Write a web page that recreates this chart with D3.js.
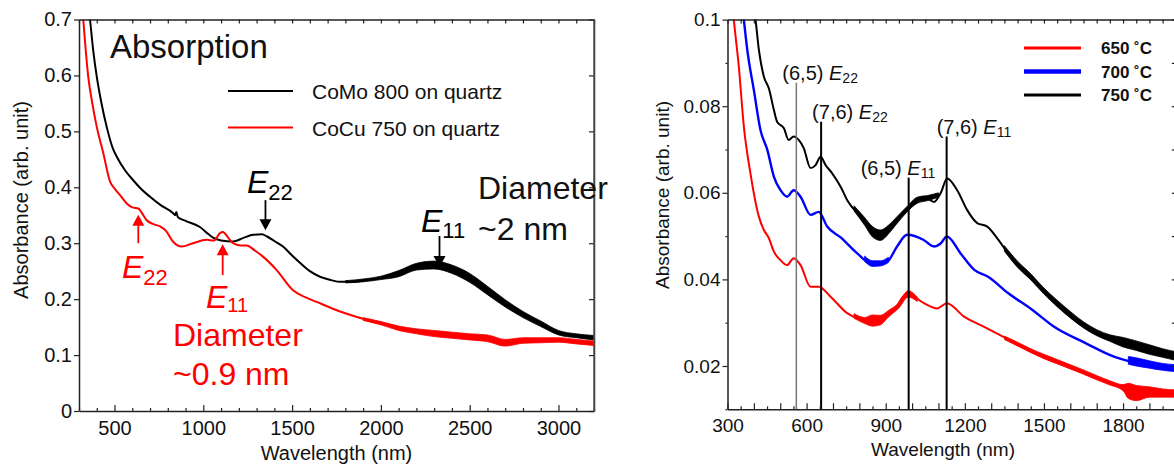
<!DOCTYPE html>
<html>
<head>
<meta charset="utf-8">
<script src="https://cdn.jsdelivr.net/npm/d3@7"></script>
<style>
body { margin: 0; background: #fff; }
svg text { font-family: "Liberation Sans", Arial, sans-serif; fill: #111; }
</style>
</head>
<body>
<svg id="chart" width="1174" height="466"></svg>
<script>
// ---------- left panel data: wavelength (nm), absorbance ----------
const leftNames = ["CoMo 800 on quartz", "CoCu 750 on quartz"];
const leftColors = ["#000000", "#ff0000"];

const como800 = [
    [340, 0.76], [362, 0.70], [380, 0.645], [400, 0.598], [430, 0.545], [456, 0.508],
    [490, 0.470], [512, 0.455], [560, 0.430], [604, 0.413], [650, 0.397], [700, 0.383],
    [760, 0.368], [829, 0.354], [842, 0.350], [848, 0.356], [856, 0.347], [900, 0.340],
    [981, 0.329], [1030, 0.316], [1055, 0.310], [1100, 0.305], [1167, 0.303], [1230, 0.310],
    [1280, 0.315], [1330, 0.316], [1359, 0.312], [1400, 0.304], [1449, 0.294], [1500, 0.278],
    [1544, 0.265], [1600, 0.250], [1657, 0.240], [1720, 0.234], [1770, 0.231], [1850, 0.231],
    [1920, 0.234], [2000, 0.238], [2107, 0.246], [2201, 0.258], [2333, 0.261], [2445, 0.249],
    [2558, 0.225], [2671, 0.198], [2783, 0.175], [2896, 0.157], [3008, 0.139], [3121, 0.133],
    [3200, 0.131]];

const cocu750 = [
    [310, 0.76], [324, 0.70], [352, 0.598], [375, 0.550], [400, 0.508], [437, 0.461],
    [475, 0.410], [500, 0.398], [531, 0.386], [569, 0.371], [600, 0.364], [634, 0.362],
    [650, 0.356], [681, 0.341], [720, 0.334], [756, 0.330], [790, 0.322],
    [829, 0.303], [878, 0.294], [942, 0.300], [1019, 0.306], [1060, 0.305], [1094, 0.318],
    [1110, 0.320], [1140, 0.310], [1167, 0.300], [1210, 0.296], [1244, 0.296], [1290, 0.287],
    [1336, 0.276], [1413, 0.252], [1505, 0.216], [1570, 0.204], [1638, 0.195], [1770, 0.178],
    [1920, 0.163], [2107, 0.148], [2295, 0.139], [2483, 0.133], [2633, 0.130], [2700, 0.122],
    [2760, 0.126], [2858, 0.127], [3046, 0.127], [3200, 0.121]];

// noisy parts: wavelength, lower edge, upper edge
const como800Noise = [
    [1800, 0.229, 0.233], [1900, 0.231, 0.236], [2000, 0.235, 0.241], [2100, 0.240, 0.251],
    [2200, 0.252, 0.264], [2300, 0.254, 0.268], [2400, 0.246, 0.261], [2500, 0.230, 0.246],
    [2600, 0.208, 0.223], [2700, 0.186, 0.199], [2800, 0.167, 0.178], [2900, 0.151, 0.161],
    [3000, 0.136, 0.144], [3100, 0.131, 0.138], [3200, 0.127, 0.135]];

const cocu750Noise = [
    [1900, 0.162, 0.167], [2000, 0.154, 0.160], [2100, 0.144, 0.152], [2200, 0.138, 0.147],
    [2300, 0.133, 0.144], [2400, 0.130, 0.141], [2500, 0.127, 0.138], [2600, 0.124, 0.136],
    [2700, 0.116, 0.128], [2800, 0.121, 0.131], [2900, 0.122, 0.131], [3000, 0.123, 0.131],
    [3100, 0.120, 0.128], [3200, 0.117, 0.125]];

const leftXTicks = [500, 1000, 1500, 2000, 2500, 3000];
const leftYTicks = [0, 0.1, 0.2, 0.3, 0.4, 0.5, 0.6, 0.7];

// ---------- right panel data ----------
const rightNames = ["650 ˚C", "700 ˚C", "750 ˚C"];
const rightColors = ["#ff0000", "#0000ff", "#000000"];

const t650 = [
    [318, 0.104], [324, 0.100], [343, 0.0891], [362, 0.0753], [387, 0.0645], [419, 0.0545],
    [438, 0.0514], [457, 0.0495], [476, 0.0464], [500, 0.0445], [526, 0.0433], [551, 0.0449],
    [577, 0.0433], [615, 0.0383], [646, 0.0383], [691, 0.0360], [754, 0.0322], [830, 0.0306],
    [880, 0.0306], [931, 0.0329], [981, 0.0368], [1045, 0.0345], [1095, 0.0333], [1132, 0.0345],
    [1197, 0.0314], [1275, 0.0290], [1363, 0.0262], [1464, 0.0229], [1590, 0.0198],
    [1717, 0.0168], [1780, 0.0154], [1843, 0.0140], [1920, 0.0137], [2000, 0.0135]];

const t700 = [
    [355, 0.104], [362, 0.100], [375, 0.093], [400, 0.0837], [425, 0.0745], [451, 0.0699],
    [476, 0.0637], [501, 0.0606], [526, 0.0591], [551, 0.0606], [577, 0.0591], [615, 0.0549],
    [646, 0.0556], [678, 0.0522], [729, 0.0497], [792, 0.0460], [855, 0.0433], [906, 0.0441],
    [943, 0.0476], [981, 0.0503], [1044, 0.0491], [1083, 0.0476], [1108, 0.0483], [1132, 0.0499],
    [1184, 0.0460], [1236, 0.0422], [1288, 0.0406], [1365, 0.0368], [1455, 0.0330],
    [1540, 0.0290], [1654, 0.0254], [1768, 0.0221], [1818, 0.0212], [1907, 0.0203], [2000, 0.0195]];

const t750 = [
    [390, 0.104], [406, 0.100], [419, 0.093], [438, 0.0868], [457, 0.0841], [476, 0.0791],
    [488, 0.0764], [514, 0.0749], [532, 0.0722], [551, 0.0730], [570, 0.0722], [589, 0.0703],
    [615, 0.0657], [634, 0.0664], [653, 0.0683], [672, 0.0664], [697, 0.0645], [729, 0.0614],
    [754, 0.0583], [805, 0.0545], [855, 0.0510], [893, 0.0499], [931, 0.0530], [981, 0.0560],
    [1007, 0.0576], [1045, 0.0591], [1083, 0.0579], [1108, 0.0599], [1133, 0.0633], [1171, 0.0606],
    [1209, 0.0560], [1247, 0.0530], [1285, 0.0522], [1323, 0.0495], [1391, 0.0437], [1455, 0.0399],
    [1520, 0.0360], [1584, 0.0322], [1654, 0.0290], [1714, 0.0272], [1793, 0.0254],
    [1894, 0.0237], [2000, 0.0222]];

const t650Noise = [
    [[780, 0.0310, 0.0321], [820, 0.0298, 0.0312], [850, 0.0292, 0.0318], [880, 0.0295, 0.0317],
     [910, 0.0313, 0.0328], [950, 0.0334, 0.0346], [985, 0.0359, 0.0374], [1020, 0.0349, 0.0359]],
    [[1350, 0.0261, 0.0269], [1400, 0.0246, 0.0255], [1450, 0.0231, 0.0240], [1500, 0.0217, 0.0227],
     [1550, 0.0205, 0.0215], [1600, 0.0193, 0.0203], [1650, 0.0181, 0.0191], [1700, 0.0168, 0.0178],
     [1750, 0.0156, 0.0166], [1800, 0.0143, 0.0157], [1820, 0.0125, 0.0160], [1850, 0.0120, 0.0155],
     [1900, 0.0128, 0.0152], [1950, 0.0128, 0.0147], [2000, 0.0128, 0.0145]]];

const t700Noise = [
    [[820, 0.0442, 0.0454], [850, 0.0430, 0.0443], [880, 0.0431, 0.0443], [910, 0.0439, 0.0451]],
    [[1820, 0.0204, 0.0222], [1850, 0.0200, 0.0219], [1900, 0.0195, 0.0212], [1950, 0.0190, 0.0206],
     [2000, 0.0187, 0.0203]]];

const t750Noise = [
    [[780, 0.0558, 0.0570], [820, 0.0525, 0.0543], [850, 0.0498, 0.0522], [880, 0.0490, 0.0514],
     [910, 0.0505, 0.0525], [940, 0.0527, 0.0543], [980, 0.0555, 0.0568], [1020, 0.0576, 0.0590],
     [1060, 0.0582, 0.0594], [1100, 0.0590, 0.0600]],
    [[1350, 0.0465, 0.0478], [1400, 0.0428, 0.0442], [1450, 0.0399, 0.0413], [1500, 0.0366, 0.0380],
     [1550, 0.0337, 0.0352], [1600, 0.0311, 0.0326], [1650, 0.0288, 0.0302], [1700, 0.0270, 0.0284],
     [1750, 0.0257, 0.0272], [1800, 0.0244, 0.0266], [1850, 0.0236, 0.0258], [1900, 0.0227, 0.0249],
     [1950, 0.0220, 0.0240], [2000, 0.0213, 0.0233]]];

// (n,m) transitions marked with vertical lines
const transitions = [
    {chir: "(6,5)", sub: "22", wl: 561},
    {chir: "(7,6)", sub: "22", wl: 655},
    {chir: "(6,5)", sub: "11", wl: 987},
    {chir: "(7,6)", sub: "11", wl: 1131}];

const rightXTicks = [300, 600, 900, 1200, 1500, 1800];
const rightYTicks = [0.02, 0.04, 0.06, 0.08, 0.1];

// ---------- setup ----------
let svg = d3.select("#chart");

let xL = d3.scaleLinear().domain([300, 3200]).range([79, 594]);
let yL = d3.scaleLinear().domain([0, 0.7]).range([411, 19.5]);
let xR = d3.scaleLinear().domain([300, 2000]).range([727.5, 1175.8]);
let yR = d3.scaleLinear().domain([0.01, 0.1]).range([409.3, 19.6]);

function styleAxis(g, size) {
    g.selectAll(".domain").attr("stroke", "#222").attr("stroke-width", 1.5);
    g.selectAll(".tick line").attr("stroke", "#222").attr("stroke-width", 1.2);
    g.selectAll(".tick text")
        .attr("font-family", "Liberation Sans, Arial, sans-serif")
        .attr("font-size", size)
        .attr("fill", "#111");
}

function arrow(g, x, yTail, yTip, color) {
    let dir = yTip > yTail ? 1 : -1;
    g.append("line")
        .attr("x1", x).attr("x2", x)
        .attr("y1", yTail).attr("y2", yTip - dir * 8)
        .attr("stroke", color).attr("stroke-width", 1.8);
    g.append("path")
        .attr("d", `M${x - 6},${yTip - dir * 11}L${x + 6},${yTip - dir * 11}L${x},${yTip}Z`)
        .attr("fill", color);
}

function eLabel(g, x, y, sub, color, big, small, drop) {
    let t = g.append("text")
        .attr("x", x).attr("y", y)
        .style("fill", color);
    t.append("tspan").text("E")
        .attr("font-style", "italic").attr("font-size", big);
    t.append("tspan").text(sub)
        .attr("font-size", small).attr("dy", drop);
}

let line = (x, y) => d3.line().x(d => x(d[0])).y(d => y(d[1])).curve(d3.curveMonotoneX);
let band = (x, y) => d3.area().x(d => x(d[0])).y0(d => y(d[1])).y1(d => y(d[2])).curve(d3.curveMonotoneX);

// ---------- left panel ----------
let left = svg.append("g");

left.append("clipPath").attr("id", "clipL")
    .append("rect")
    .attr("x", xL.range()[0]).attr("y", yL.range()[1])
    .attr("width", xL.range()[1] - xL.range()[0])
    .attr("height", yL.range()[0] - yL.range()[1]);

let plotL = left.append("g").attr("clip-path", "url(#clipL)");

[[como800Noise, 0], [cocu750Noise, 1]].forEach(([d, i]) => {
    plotL.append("path")
        .attr("d", band(xL, yL)(d))
        .attr("fill", leftColors[i])
        .attr("stroke", leftColors[i]).attr("stroke-width", 0.8);
});

[como800, cocu750].forEach((d, i) => {
    plotL.append("path")
        .attr("d", line(xL, yL)(d))
        .attr("fill", "none")
        .attr("stroke", leftColors[i])
        .attr("stroke-width", 2);
});

let minorL = d3.range(300, 3201, 100);

let axBL = left.append("g")
    .attr("transform", `translate(0,${yL.range()[0]})`)
    .call(d3.axisBottom(xL).tickValues(minorL).tickSize(-6).tickSizeOuter(0).tickPadding(10)
        .tickFormat(d => leftXTicks.includes(d) ? d : ""));
axBL.selectAll(".tick line").attr("y2", d => leftXTicks.includes(d) ? -6 : -3);
styleAxis(axBL, 20);

let axTL = left.append("g")
    .attr("transform", `translate(0,${yL.range()[1]})`)
    .call(d3.axisTop(xL).tickValues(minorL).tickSize(-4).tickSizeOuter(0).tickFormat(""));
styleAxis(axTL, 20);

let axLL = left.append("g")
    .attr("transform", `translate(${xL.range()[0]},0)`)
    .call(d3.axisLeft(yL).tickValues(leftYTicks).tickSize(5).tickSizeOuter(0).tickPadding(2)
        .tickFormat(d => d === 0 ? "0" : d3.format(".1f")(d)));
styleAxis(axLL, 20);

let axRL = left.append("g")
    .attr("transform", `translate(${xL.range()[1]},0)`)
    .call(d3.axisRight(yL).tickValues(leftYTicks).tickSize(-5).tickSizeOuter(0).tickFormat(""));
styleAxis(axRL, 20);

// right border of the left frame
left.append("line")
    .attr("x1", xL.range()[1]).attr("x2", xL.range()[1])
    .attr("y1", yL.range()[1]).attr("y2", yL.range()[0])
    .attr("stroke", "#555").attr("stroke-width", 1.5);

left.append("text")
    .attr("x", d3.mean(xL.range())).attr("y", 460)
    .attr("text-anchor", "middle").attr("font-size", 20)
    .text("Wavelength (nm)");

left.append("text")
    .attr("transform", `translate(28,200) rotate(-90)`)
    .attr("text-anchor", "middle").attr("font-size", 20)
    .text("Absorbance (arb. unit)");

left.append("text")
    .attr("x", 110).attr("y", 58)
    .attr("font-size", 33)
    .text("Absorption");

// legend
leftNames.forEach((name, i) => {
    let yy = 91 + i * 36.5;
    left.append("line")
        .attr("x1", 228).attr("x2", 293)
        .attr("y1", yy).attr("y2", yy)
        .attr("stroke", leftColors[i]).attr("stroke-width", 2.2);
    left.append("text")
        .attr("x", 312).attr("y", yy + 8)
        .attr("font-size", 21)
        .text(name);
});

// annotations
let annL = left.append("g");
eLabel(annL, 247, 193, "22", "#000", 32, 22, 7);
arrow(annL, xL(1350), yL(0.377), yL(0.323), "#000");
eLabel(annL, 421, 232, "11", "#000", 32, 22, 6);
arrow(annL, xL(2330), yL(0.313), yL(0.2575), "#000");
annL.append("text").attr("x", 478).attr("y", 199).attr("font-size", 32).text("Diameter");
annL.append("text").attr("x", 478).attr("y", 240).attr("font-size", 32).text("~2 nm");

eLabel(annL, 122, 278, "22", "#ff0000", 32, 22, 7);
arrow(annL, xL(634), yL(0.300), yL(0.351), "#ff0000");
eLabel(annL, 206, 308, "11", "#ff0000", 32, 20, 4);
arrow(annL, xL(1109), yL(0.243), yL(0.298), "#ff0000");
annL.append("text").attr("x", 173).attr("y", 346).attr("font-size", 32)
    .style("fill", "#ff0000").text("Diameter");
annL.append("text").attr("x", 173).attr("y", 385).attr("font-size", 32)
    .style("fill", "#ff0000").text("~0.9 nm");

// ---------- right panel ----------
let right = svg.append("g");

right.append("clipPath").attr("id", "clipR")
    .append("rect")
    .attr("x", xR.range()[0]).attr("y", yR.range()[1])
    .attr("width", xR.range()[1] - xR.range()[0])
    .attr("height", yR.range()[0] - yR.range()[1]);

let plotR = right.append("g").attr("clip-path", "url(#clipR)");

// transition markers
let markTop = [0.0854, 0.0764, 0.0635, 0.0730];
let labelDx = [-14, -9, -48, -10];
transitions.forEach((t, i) => {
    right.append("line")
        .attr("x1", xR(t.wl)).attr("x2", xR(t.wl))
        .attr("y1", yR(markTop[i])).attr("y2", yR.range()[0])
        .attr("stroke", i === 0 ? "#777" : "#000")
        .attr("stroke-width", i === 0 ? 1.5 : 2);
    let lab = right.append("text")
        .attr("x", xR(t.wl) + labelDx[i])
        .attr("y", yR(markTop[i]) - 3)
        .attr("font-size", 20);
    lab.append("tspan").text(t.chir + " ");
    lab.append("tspan").text("E").attr("font-style", "italic");
    lab.append("tspan").text(t.sub).attr("font-size", 14).attr("dy", 3);
});

[t650Noise, t700Noise, t750Noise].forEach((parts, i) => {
    parts.forEach(d => {
        plotR.append("path")
            .attr("d", band(xR, yR)(d))
            .attr("fill", rightColors[i])
            .attr("stroke", rightColors[i]).attr("stroke-width", 0.8);
    });
});

[t650, t700, t750].forEach((d, i) => {
    plotR.append("path")
        .attr("d", line(xR, yR)(d))
        .attr("fill", "none")
        .attr("stroke", rightColors[i])
        .attr("stroke-width", i === 1 ? 2.4 : 2);
});

let minorR = d3.range(300, 2001, 50);

let axBR = right.append("g")
    .attr("transform", `translate(0,${yR.range()[0]})`)
    .call(d3.axisBottom(xR).tickValues(minorR).tickSize(-6).tickSizeOuter(0).tickPadding(9)
        .tickFormat(d => rightXTicks.includes(d) ? d : ""));
axBR.selectAll(".tick line").attr("y2", d => d % 100 === 0 ? -6 : -3);
styleAxis(axBR, 19);

let axTR = right.append("g")
    .attr("transform", `translate(0,${yR.range()[1]})`)
    .call(d3.axisTop(xR).tickValues(minorR).tickSize(-4).tickSizeOuter(0).tickFormat(""));
styleAxis(axTR, 19);

let minorY = d3.range(1, 11).map(k => k / 100);

let axLR = right.append("g")
    .attr("transform", `translate(${xR.range()[0]},0)`)
    .call(d3.axisLeft(yR).tickValues(minorY).tickSize(5).tickSizeOuter(0).tickPadding(2)
        .tickFormat(d => {
            let major = rightYTicks.find(v => Math.abs(v - d) < 1e-9);
            return major === undefined ? "" : (major === 0.1 ? "0.1" : d3.format(".2f")(major));
        }));
axLR.selectAll(".tick line")
    .attr("x2", d => rightYTicks.some(v => Math.abs(v - d) < 1e-9) ? -5 : -2);
styleAxis(axLR, 19);

let axRR = right.append("g")
    .attr("transform", `translate(${xR.range()[1]},0)`)
    .call(d3.axisRight(yR).tickValues(minorY).tickSize(-4).tickSizeOuter(0).tickFormat(""));
styleAxis(axRR, 19);

right.append("text")
    .attr("x", 943).attr("y", 456)
    .attr("text-anchor", "middle").attr("font-size", 19)
    .text("Wavelength (nm)");

right.append("text")
    .attr("transform", `translate(669,195) rotate(-90)`)
    .attr("text-anchor", "middle").attr("font-size", 19)
    .text("Absorbance (arb. unit)");

// legend
rightNames.forEach((name, i) => {
    let yy = 48 + i * 23.5;
    right.append("line")
        .attr("x1", 1024).attr("x2", 1081)
        .attr("y1", yy).attr("y2", yy)
        .attr("stroke", rightColors[i])
        .attr("stroke-width", i === 1 ? 4.5 : 3);
    right.append("text")
        .attr("x", 1101).attr("y", yy + 6)
        .attr("font-size", 17).attr("font-weight", "bold")
        .text(name);
});
</script>
</body>
</html>
